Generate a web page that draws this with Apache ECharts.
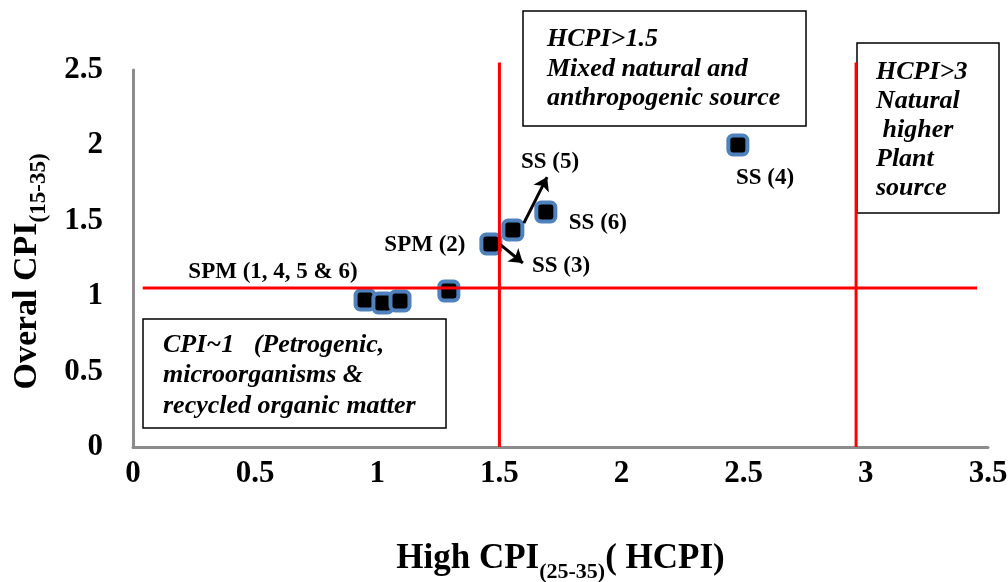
<!DOCTYPE html>
<html><head><meta charset="utf-8">
<script src="https://cdn.jsdelivr.net/npm/echarts@6/dist/echarts.min.js"></script>
<style>html,body{margin:0;padding:0;background:#fff}#c{width:1008px;height:582px}</style>
</head><body><div id="c"></div>
<script>
// ---- data ----
const hcpi       = [0.95, 1.023, 1.093, 1.293, 1.465, 1.555, 1.69, 2.476];
const overallCpi = [0.975, 0.955, 0.968, 1.034, 1.346, 1.439, 1.558, 2.003];
const xTickLabels = ['0', '0.5', '1', '1.5', '2', '2.5', '3', '3.5'];
const yTickLabels = ['0', '0.5', '1', '1.5', '2', '2.5'];
const pointLabels = ['SPM (1, 4, 5 & 6)', 'SPM (2)', 'SS (3)', 'SS (5)', 'SS (6)', 'SS (4)'];
const labelX      = [0.573, 1.195, 1.752, 1.707, 1.903, 2.587];
const labelY      = [1.162, 1.340, 1.200, 1.890, 1.486, 1.784];
const arrowStart  = [[1.60, 1.485], [1.49, 1.36]];
const arrowEnd    = [[1.695, 1.79], [1.596, 1.22]];
const hcpiThresholds = [1.5, 2.96];
const thresholdTop = 2.55;
const cpiThreshold = 1.055;
const cpiLineRange = [0.04, 3.455];
const box1Lines = ['HCPI>1.5', 'Mixed natural and', 'anthropogenic source'];
const box2Lines = ['HCPI>3', 'Natural', ' higher', 'Plant', 'source'];
const box3Lines = ['CPI~1   (Petrogenic,', 'microorganisms &', 'recycled organic matter'];

const FF = '"Liberation Serif", "Times New Roman", serif';

function box(x, y, w, h, lines, tx, ty, lh) {
  return [
    { type: 'rect', shape: { x: x, y: y, width: w, height: h },
      style: { fill: '#fff', stroke: '#000', lineWidth: 1.5 } },
    { type: 'text', x: tx, y: ty,
      style: { text: lines.join('\n'), fontFamily: FF, fontSize: 26, fontWeight: 'bold',
               fontStyle: 'italic', fill: '#000', lineHeight: lh, verticalAlign: 'top', align: 'left' } }
  ];
}

const redLine = { color: '#ff0000', width: 3 };
const thresholdSeries = hcpiThresholds.map(v => ({
  type: 'line', data: [[v, 0], [v, thresholdTop]], showSymbol: false, symbol: 'none',
  clip: false, lineStyle: redLine, z: 5, silent: true
}));
thresholdSeries.push({
  type: 'line', data: [[cpiLineRange[0], cpiThreshold], [cpiLineRange[1], cpiThreshold]],
  showSymbol: false, symbol: 'none', clip: false, lineStyle: redLine, z: 5, silent: true
});

const nameRich = (big, small) => ({
  m: { fontSize: big, fontWeight: 'bold', fontFamily: FF, color: '#000', lineHeight: 48 },
  s: { fontSize: small, fontWeight: 'bold', fontFamily: FF, color: '#000', lineHeight: small, verticalAlign: 'bottom' }
});

const option = {
  animation: false,
  grid: { left: 133, right: 20, top: 70, bottom: 135, outerBoundsMode: 'none', containLabel: false },
  xAxis: {
    type: 'value', min: 0, max: 3.5, interval: 0.5,
    axisLine: { show: true, lineStyle: { color: '#8c8c8c', width: 3 } },
    axisTick: { show: false }, splitLine: { show: false },
    axisLabel: { fontSize: 31, fontWeight: 'bold', fontFamily: FF, color: '#000', margin: 11,
                 formatter: (v) => xTickLabels[Math.round(v / 0.5)] },
    name: '{m|High CPI}{s|(25-35)}{m|( HCPI)}', nameLocation: 'middle', nameGap: 88,
    nameTextStyle: { rich: nameRich(35, 22) }
  },
  yAxis: {
    type: 'value', min: 0, max: 2.5, interval: 0.5,
    axisLine: { show: true, lineStyle: { color: '#8c8c8c', width: 3 } },
    axisTick: { show: false }, splitLine: { show: false },
    axisLabel: { fontSize: 31, fontWeight: 'bold', fontFamily: FF, color: '#000', margin: 30,
                 formatter: (v) => yTickLabels[Math.round(v / 0.5)] },
    name: '{m|Overal CPI}{s|(15-35)}', nameLocation: 'middle', nameGap: 82, nameRotate: 90,
    nameTextStyle: { rich: nameRich(34, 23), padding: [0, 26, 0, 0] }
  },
  graphic: [].concat(
    box(523, 11, 283, 115, box1Lines, 547, 25, 29.5),
    box(857, 43, 142, 170, box2Lines, 876, 58, 29),
    box(143, 319, 303, 109, box3Lines, 163, 330, 30.5)
  ),
  series: [
    {
      type: 'scatter', data: hcpi.map((x, i) => [x, overallCpi[i]]),
      symbol: 'roundRect', symbolSize: 19, z: 3,
      itemStyle: { color: '#000', borderColor: '#4f81bd', borderWidth: 4, opacity: 1 }
    },
    {
      type: 'scatter', data: labelX.map((x, i) => [x, labelY[i], pointLabels[i]]),
      symbolSize: 0, z: 6, silent: true,
      itemStyle: { opacity: 1 },
      label: { show: true, position: 'inside', formatter: (p) => p.data[2],
               fontSize: 23, fontWeight: 'bold', fontFamily: FF, color: '#000' },
      markLine: {
        silent: true, animation: false, symbol: ['none', 'arrow'], symbolSize: 13,
        lineStyle: { color: '#000', width: 3, type: 'solid', opacity: 1 }, label: { show: false },
        data: arrowStart.map((s, i) => [{ coord: s }, { coord: arrowEnd[i] }])
      }
    }
  ].concat(thresholdSeries)
};
echarts.init(document.getElementById('c')).setOption(option);
</script></body></html>
